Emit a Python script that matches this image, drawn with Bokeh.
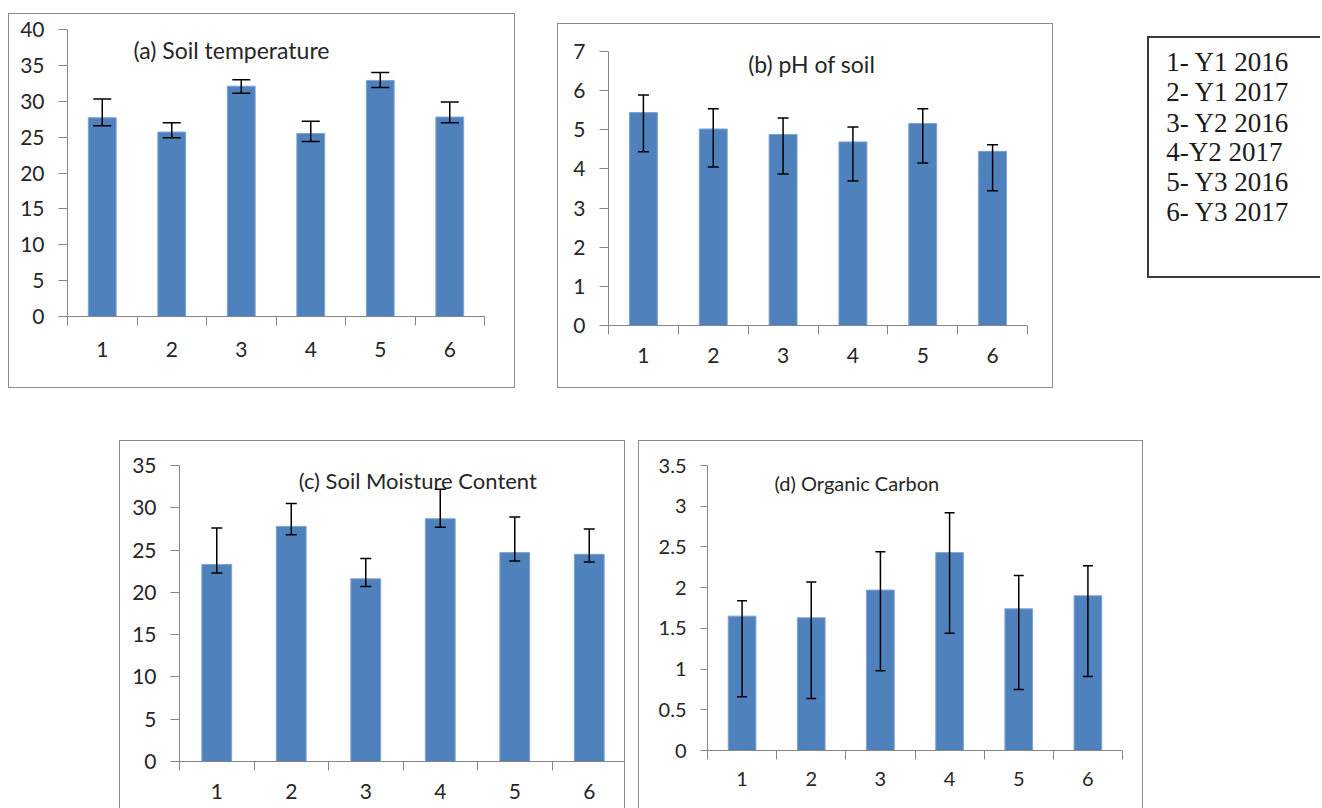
from bokeh.plotting import figure
from bokeh.models import (Range1d, FixedTicker, CustomJSTickFormatter, Whisker, TeeHead,
                          ColumnDataSource, Label, Spacer)
from bokeh.layouts import row, column
from bokeh.core.properties import value
from bokeh.embed import file_html
from bokeh.resources import INLINE

# ---------------- data ----------------
categories = ["1", "2", "3", "4", "5", "6"]

temp_mean = [27.7, 25.7, 32.1, 25.5, 32.9, 27.8]
temp_upper = [30.3, 27.0, 33.0, 27.2, 34.0, 29.9]
temp_lower = [26.6, 24.9, 31.1, 24.4, 31.9, 27.0]

ph_mean = [5.44, 5.02, 4.88, 4.69, 5.16, 4.45]
ph_upper = [5.89, 5.54, 5.30, 5.07, 5.54, 4.62]
ph_lower = [4.44, 4.05, 3.87, 3.69, 4.15, 3.44]

moist_mean = [23.3, 27.8, 21.6, 28.7, 24.7, 24.5]
moist_upper = [27.6, 30.5, 24.0, 32.2, 28.9, 27.5]
moist_lower = [22.3, 26.8, 20.7, 27.7, 23.7, 23.6]

oc_mean = [1.65, 1.63, 1.97, 2.43, 1.74, 1.90]
oc_upper = [1.84, 2.07, 2.44, 2.92, 2.15, 2.27]
oc_lower = [0.66, 0.64, 0.98, 1.44, 0.75, 0.91]

titles = ["(a) Soil temperature", "(b) pH of soil",
          "(c) Soil Moisture Content", "(d) Organic Carbon"]
temp_ticks = [0, 5, 10, 15, 20, 25, 30, 35, 40]
ph_ticks = [0, 1, 2, 3, 4, 5, 6, 7]
moist_ticks = [0, 5, 10, 15, 20, 25, 30, 35]
oc_ticks = [0, 0.5, 1, 1.5, 2, 2.5, 3, 3.5]

legend_labels = ["1- Y1 2016", "2- Y1 2017", "3- Y2 2016",
                 "4-Y2 2017", "5- Y3 2016", "6- Y3 2017"]

BAR = "#4F81BD"
AXIS = "#868686"
TXT = "#262626"
FONT = "Lato"


def panel(title, mean, upper, lower, yticks, width, height, mbl, mbr, mbt, mbb,
          title_x, title_y, title_size, tick_size, cap, ytick_out, xstandoff, styles):
    xs = list(range(1, len(categories) + 1))
    src = ColumnDataSource(dict(x=xs, top=mean, upper=upper, lower=lower))
    p = figure(width=width, height=height, output_backend="svg", toolbar_location=None,
               x_range=Range1d(0.5, len(categories) + 0.5),
               y_range=Range1d(0, yticks[-1]),
               min_border_left=mbl, min_border_right=mbr,
               min_border_top=mbt, min_border_bottom=mbb,
               styles=styles)
    p.outline_line_color = None
    p.grid.visible = False
    p.vbar(x="x", top="top", width=0.4, bottom=0, source=src,
           fill_color=BAR, line_color="#7fa2d0", line_width=1)
    p.add_layout(Whisker(source=src, base="x", upper="upper", lower="lower",
                         line_color="black", line_width=1.5, level="overlay",
                         upper_head=TeeHead(size=cap, line_color="black", line_width=1.5),
                         lower_head=TeeHead(size=cap, line_color="black", line_width=1.5)))
    p.add_layout(Label(x=title_x, y=title_y, text=title, text_font=FONT,
                       text_font_size=title_size, text_color=TXT,
                       text_baseline="alphabetic", text_align="left"))
    # x axis: labels at centers, tick marks between categories
    xa = p.xaxis[0]
    xa.ticker = FixedTicker(ticks=xs, minor_ticks=[i + 0.5 for i in range(0, len(categories) + 1)])
    xa.formatter = CustomJSTickFormatter(args=dict(cats=categories),
                                         code="return cats[Math.round(tick) - 1];")
    xa.major_tick_out = 0
    xa.major_tick_in = 0
    xa.minor_tick_out = 9
    xa.minor_tick_in = 0
    xa.minor_tick_line_color = AXIS
    xa.axis_line_color = AXIS
    xa.major_label_standoff = xstandoff
    xa.major_label_text_font = FONT
    xa.major_label_text_font_size = tick_size
    xa.major_label_text_color = TXT
    # y axis
    ya = p.yaxis[0]
    ya.ticker = FixedTicker(ticks=yticks)
    ya.formatter = CustomJSTickFormatter(code="return tick.toString();")
    ya.major_tick_out = ytick_out
    ya.major_tick_in = 0
    ya.minor_tick_line_color = None
    ya.major_tick_line_color = AXIS
    ya.axis_line_color = AXIS
    ya.major_label_standoff = 14
    ya.major_label_text_font = FONT
    ya.major_label_text_font_size = tick_size
    ya.major_label_text_color = TXT
    return p


full_border = {"border": "1px solid #8c8c8c"}
open_border = {"border-top": "1px solid #8c8c8c", "border-left": "1px solid #8c8c8c",
               "border-right": "1px solid #8c8c8c"}

fa = panel(titles[0], temp_mean, temp_upper, temp_lower, temp_ticks,
           507, 375, 58, 32, 15, 73, 1.45, 37.2, "23px", "21px", 18, 9, 16, full_border)
fb = panel(titles[1], ph_mean, ph_upper, ph_lower, ph_ticks,
           496, 365, 50, 27, 27, 64, 2.5, 6.69, "23px", "21px", 11, 9, 13, full_border)
fc = panel(titles[2], moist_mean, moist_upper, moist_lower, moist_ticks,
           506, 368, 59, 0, 24, 48, 2.1, 33.2, "22px", "21px", 11, 9, 13, open_border)
fd = panel(titles[3], oc_mean, oc_upper, oc_lower, oc_ticks,
           505, 368, 68, 22, 24, 59, 1.47, 3.28, "20px", "20px", 10, 7, 12, open_border)

# legend box (right edge cut by the page edge, as in the reference)
leg = figure(width=173, height=242, output_backend="svg", toolbar_location=None,
             x_range=Range1d(0, 171), y_range=Range1d(238, 0),
             x_axis_type=None, y_axis_type=None, min_border=0,
             styles={"border-top": "2px solid #3a3a3a", "border-left": "2px solid #3a3a3a",
                     "border-bottom": "2px solid #3a3a3a"})
leg.outline_line_color = None
leg.grid.visible = False
leg_src = ColumnDataSource(dict(x=[16.5] * len(legend_labels),
                                y=[23.0, 53.0, 83.0, 111.5, 141.5, 171.0],
                                t=legend_labels))
leg.text(x="x", y="y", text="t", source=leg_src, text_font=value("Liberation Serif"),
         text_font_size="27px", text_color="#1a1a1a", text_baseline="alphabetic")

top = row(Spacer(width=8), column(Spacer(height=5), fa), Spacer(width=42),
          column(Spacer(height=15), fb), Spacer(width=94),
          column(Spacer(height=28), leg))
bottom = row(Spacer(width=119), column(Spacer(height=0), fc), Spacer(width=13),
             column(Spacer(height=0), fd))
layout = column(Spacer(height=8), top, Spacer(height=52), bottom)

open("out.html", "w").write(file_html(layout, INLINE))
